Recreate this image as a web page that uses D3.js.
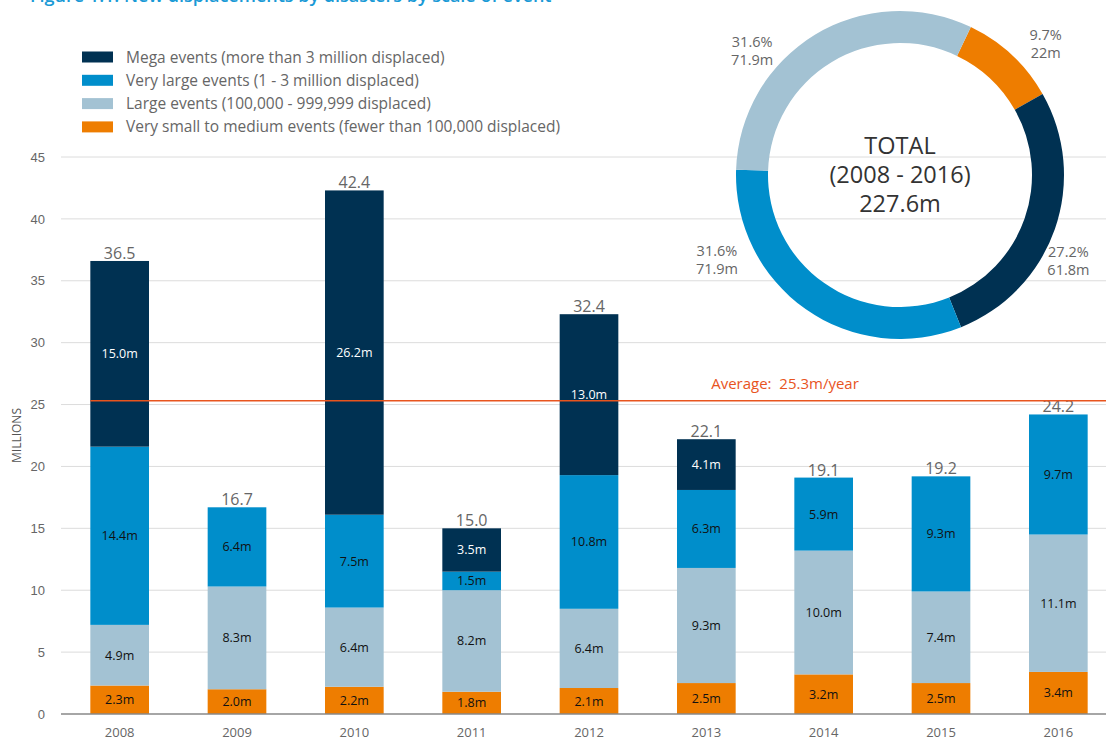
<!DOCTYPE html>
<html>
<head>
<meta charset="utf-8">
<script src="https://cdn.jsdelivr.net/npm/d3@7"></script>
<style>
  body { margin: 0; background: #fff; }
  svg { font-family: "Open Sans", "Noto Sans", sans-serif; }
</style>
</head>
<body>
<svg id="chart" width="1106" height="740"></svg>
<script>
// chart data
const years = ["2008", "2009", "2010", "2011", "2012", "2013", "2014", "2015", "2016"];
const smallEvents = [2.3, 2.0, 2.2, 1.8, 2.1, 2.5, 3.2, 2.5, 3.4];
const largeEvents = [4.9, 8.3, 6.4, 8.2, 6.4, 9.3, 10.0, 7.4, 11.1];
const veryLargeEvents = [14.4, 6.4, 7.5, 1.5, 10.8, 6.3, 5.9, 9.3, 9.7];
const megaEvents = [15.0, 0, 26.2, 3.5, 13.0, 4.1, 0, 0, 0];
const yearTotals = ["36.5", "16.7", "42.4", "15.0", "32.4", "22.1", "19.1", "19.2", "24.2"];
const yTicks = [0, 5, 10, 15, 20, 25, 30, 35, 40, 45];
const average = 25.3;

// donut data (order as drawn clockwise from the orange slice)
const donutKeys = ["small", "mega", "veryLarge", "large"];
const donutValues = [22, 61.8, 71.9, 71.9];
const donutPercents = ["9.7%", "27.2%", "31.6%", "31.6%"];
const donutAmounts = ["22m", "61.8m", "71.9m", "71.9m"];

const seriesKeys = ["small", "large", "veryLarge", "mega"];
const seriesNames = {
    mega: "Mega events (more than 3 million displaced)",
    veryLarge: "Very large events (1 - 3 million displaced)",
    large: "Large events (100,000 - 999,999 displaced)",
    small: "Very small to medium events (fewer than 100,000 displaced)"
};
const colors = { mega: "#003152", veryLarge: "#008ecb", large: "#a3c2d3", small: "#ee7d00" };
const labelColors = { mega: "#fff", veryLarge: "#111", large: "#111", small: "#111" };

const svg = d3.select("#chart");

// title (clipped at the top edge like the reference)
svg.append("text")
    .attr("x", 30).attr("y", 2)
    .attr("fill", "#1a9ad6")
    .attr("font-size", 18)
    .attr("font-weight", 600)
    .text("Figure 1.1: New displacements by disasters by scale of event");

// scales
const x = d3.scaleBand().domain(years).range([61, 1117]).paddingInner(0.5).paddingOuter(0.25);
const y = d3.scaleLinear().domain([0, 45]).range([714, 157]);

// gridlines + y labels
const grid = svg.append("g");
grid.selectAll("line").data(yTicks.filter(d => d > 0)).join("line")
    .attr("x1", 61).attr("x2", 1106)
    .attr("y1", d => y(d)).attr("y2", d => y(d))
    .attr("stroke", "#dcdcdc").attr("stroke-width", 1);

const yAxis = svg.append("g")
    .attr("transform", "translate(61,0)")
    .call(d3.axisLeft(y).tickValues(yTicks).tickSize(0).tickPadding(16));
yAxis.select(".domain").remove();
yAxis.selectAll("text").attr("font-size", 13).attr("fill", "#666").attr("font-family", null);

svg.append("text")
    .attr("transform", "translate(21," + y(22.5) + ") rotate(-90)")
    .attr("text-anchor", "middle")
    .attr("font-size", 12).attr("fill", "#555")
    .text("MILLIONS");

// stacked bars
const rows = years.map((yr, i) => ({
    year: yr, small: smallEvents[i], large: largeEvents[i],
    veryLarge: veryLargeEvents[i], mega: megaEvents[i]
}));
const stacked = d3.stack().keys(seriesKeys)(rows);

const layers = svg.append("g").selectAll("g").data(stacked).join("g")
    .attr("fill", d => colors[d.key]);

layers.selectAll("rect").data(d => d.filter(s => s[1] - s[0] > 0)).join("rect")
    .attr("x", d => x(d.data.year))
    .attr("width", x.bandwidth())
    .attr("y", d => y(d[1]))
    .attr("height", d => y(d[0]) - y(d[1]));

layers.each(function(layer) {
    d3.select(this).selectAll("text").data(layer.filter(s => s[1] - s[0] > 0)).join("text")
        .attr("x", d => x(d.data.year) + x.bandwidth() / 2)
        .attr("y", d => (y(d[0]) + y(d[1])) / 2 + 4.5)
        .attr("text-anchor", "middle")
        .attr("font-size", 12.5)
        .attr("fill", labelColors[layer.key])
        .text(d => (d[1] - d[0]).toFixed(1) + "m");
});

// totals above bars
svg.append("g").selectAll("text").data(rows).join("text")
    .attr("x", d => x(d.year) + x.bandwidth() / 2)
    .attr("y", (d, i) => y(d.small + d.large + d.veryLarge + d.mega) - 2)
    .attr("text-anchor", "middle")
    .attr("font-size", 16).attr("fill", "#666")
    .text((d, i) => yearTotals[i]);

// baseline
svg.append("line")
    .attr("x1", 61).attr("x2", 1106)
    .attr("y1", y(0)).attr("y2", y(0))
    .attr("stroke", "#888").attr("stroke-width", 1.5);

// x labels
svg.append("g").selectAll("text").data(years).join("text")
    .attr("x", d => x(d) + x.bandwidth() / 2)
    .attr("y", 737)
    .attr("text-anchor", "middle")
    .attr("font-size", 13).attr("fill", "#666")
    .text(d => d);

// average line
svg.append("line")
    .attr("x1", x(years[0])).attr("x2", 1106)
    .attr("y1", y(average)).attr("y2", y(average))
    .attr("stroke", "#e8541e").attr("stroke-width", 1.5);
svg.append("text")
    .attr("x", 785).attr("y", y(average) - 12)
    .attr("text-anchor", "middle")
    .attr("font-size", 15).attr("fill", "#e8541e")
    .attr("xml:space", "preserve")
    .text("Average:  " + average + "m/year");

// legend
const legendOrder = ["mega", "veryLarge", "large", "small"];
const legend = svg.append("g").attr("transform", "translate(82,57)");
legendOrder.forEach((k, i) => {
    const row = legend.append("g").attr("transform", "translate(0," + i * 23.3 + ")");
    row.append("rect").attr("x", 0).attr("y", -5.5).attr("width", 31).attr("height", 11).attr("fill", colors[k]);
    row.append("text").attr("x", 44).attr("y", 5.5).attr("font-size", 15.5).attr("fill", "#666").text(seriesNames[k]);
});

// donut
const cx = 900, cy = 175;
const startAngle = 25.6 * Math.PI / 180;
const pie = d3.pie().sort(null).startAngle(startAngle).endAngle(startAngle + 2 * Math.PI);
const arcs = pie(donutValues);
const arc = d3.arc().innerRadius(132).outerRadius(164);
const donut = svg.append("g").attr("transform", "translate(" + cx + "," + cy + ")");
donut.selectAll("path").data(arcs).join("path")
    .attr("d", arc)
    .attr("fill", (d, i) => colors[donutKeys[i]]);

// label placement around the ring (angle in degrees clockwise from top, radius)
const labelSpots = [[48, 196], [117, 189], [245, 202], [310, 193]];
const dl = donut.selectAll("g.lbl").data(arcs).join("g").attr("class", "lbl")
    .attr("transform", (d, i) => {
        const a = labelSpots[i][0] * Math.PI / 180, r = labelSpots[i][1];
        return "translate(" + (Math.sin(a) * r) + "," + (-Math.cos(a) * r) + ")";
    });
dl.append("text").attr("y", -4).attr("text-anchor", "middle").attr("font-size", 14.5).attr("fill", "#666")
    .text((d, i) => donutPercents[i]);
dl.append("text").attr("y", 14).attr("text-anchor", "middle").attr("font-size", 14.5).attr("fill", "#666")
    .text((d, i) => donutAmounts[i]);

const centerLines = ["TOTAL", "(2008 - 2016)", "227.6m"];
donut.selectAll("text.center").data(centerLines).join("text").attr("class", "center")
    .attr("y", (d, i) => -29 + i * 29 + 8)
    .attr("text-anchor", "middle")
    .attr("font-size", 23.5).attr("fill", "#333")
    .text(d => d);
</script>
</body>
</html>
